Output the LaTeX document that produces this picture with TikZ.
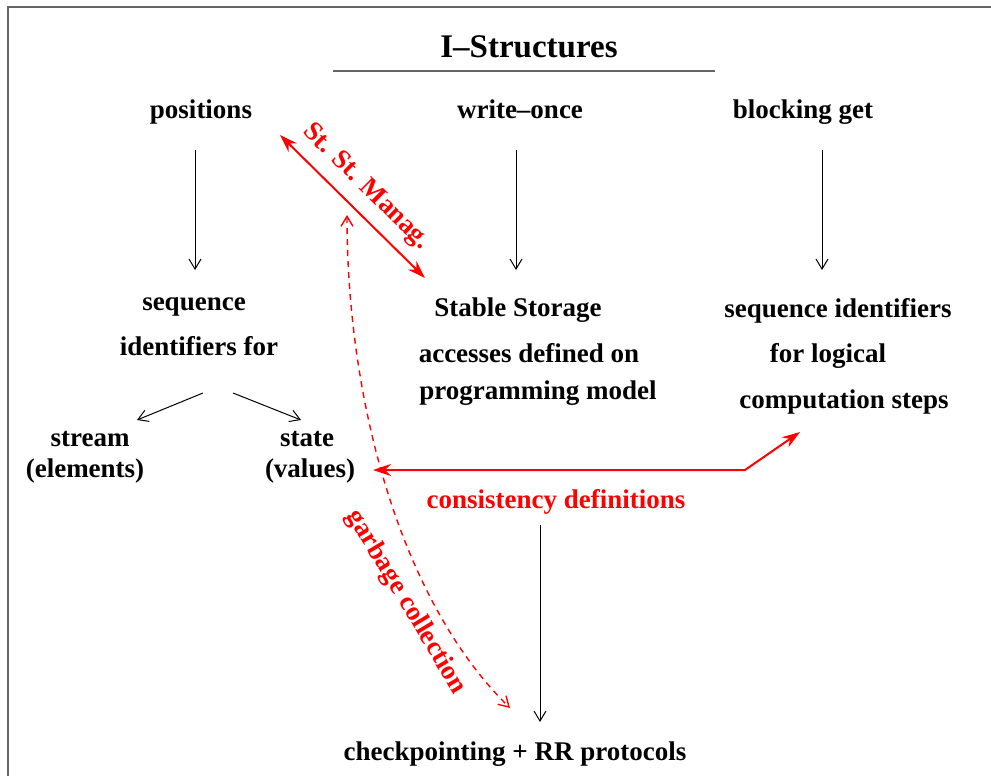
\documentclass[tikz,border=0pt]{standalone}
\usepackage{fontspec}
\setmainfont{Liberation Serif}
\usetikzlibrary{arrows.meta}
\definecolor{framegray}{gray}{0.4}
\begin{document}
\begin{tikzpicture}[x=0.5pt,y=-0.5pt,
  lbl/.style={font=\fontsize{13.5}{15}\selectfont\bfseries, inner sep=0pt, anchor=base},
  rlbl/.style={lbl, text=red},
  thinarrow/.style={line width=0.5pt, -{Straight Barb[length=5pt,width=6pt]}},
  redarrow/.style={red, line width=1pt, {Stealth[length=9pt,width=6pt]}-{Stealth[length=9pt,width=6pt]}},
  gcarrow/.style={red, line width=0.7pt, dash pattern=on 3pt off 2.5pt,
    {Straight Barb[length=5pt,width=6pt]}-{Straight Barb[length=5pt,width=6pt]}},
]
\useasboundingbox (0,0) rectangle (991,776);
% frame
\draw[framegray, line width=1pt] (8,800) -- (8,7) -- (1000,7);

% title
\node[lbl, font=\fontsize{16.5}{18}\selectfont\bfseries] (title) at (529,57) {I--Structures};
\draw[framegray, line width=0.6pt] (333,71) coordinate (ruleL) -- (715,71) coordinate (ruleR);

% top row
\node[lbl] (positions) at (201,118) {positions};
\node[lbl] (writeonce) at (520,118) {write--once};
\node[lbl] (blocking) at (803,118) {blocking get};

% middle texts
\node[lbl] (seq1) at (194,310) {sequence};
\node[lbl] (seq2) at (199,355) {identifiers for};
\node[lbl] (stab1) at (518,316) {Stable Storage};
\node[lbl] (stab2) at (529,362) {accesses defined on};
\node[lbl] (stab3) at (538,399) {programming model};
\node[lbl] (sid1) at (838,317) {sequence identifiers};
\node[lbl] (sid2) at (828,362) {for logical};
\node[lbl] (sid3) at (844,408) {computation steps};

\node[lbl] (stream1) at (90,446) {stream};
\node[lbl] (stream2) at (85,477) {(elements)};
\node[lbl] (state1) at (307,446) {state};
\node[lbl] (state2) at (310,477) {(values)};

\node[rlbl] (consist) at (556,508) {consistency definitions};
\node[lbl] (ckpt) at (515,760) {checkpointing + RR protocols};

% arrow end points
\coordinate (posA) at (195,150);  \coordinate (posB) at (195,270);
\coordinate (woA) at (516,150);   \coordinate (woB) at (516,270);
\coordinate (bgA) at (822,150);   \coordinate (bgB) at (822,270);
\coordinate (splitL) at (203,393); \coordinate (streamTip) at (137,420);
\coordinate (splitR) at (233,393); \coordinate (stateTip) at (301,420);
\coordinate (cdA) at (540,525);   \coordinate (cdB) at (540,722);

\draw[thinarrow] (posA) -- (posB);
\draw[thinarrow] (woA) -- (woB);
\draw[thinarrow] (bgA) -- (bgB);
\draw[thinarrow] (splitL) -- (streamTip);
\draw[thinarrow] (splitR) -- (stateTip);
\draw[thinarrow] (cdA) -- (cdB);

% stable storage management
\coordinate (ssA) at (280,135);
\coordinate (ssB) at (425,278);
\draw[redarrow] (ssA) -- (ssB);
\node[rlbl, anchor=center, rotate=-44.6] (sslabel) at (366,187) {St. St. Manag.};

% consistency connector
\coordinate (csL) at (373,470);
\coordinate (csBend) at (745,470);
\coordinate (csR) at (800,432);
\draw[redarrow] (csL) -- (csBend) -- (csR);

% garbage collection
\coordinate (gcTop) at (347,215);
\coordinate (gcBot) at (510,708);
\draw[gcarrow] (gcTop) .. controls (347,400) and (400,600) .. (gcBot);
\node[rlbl, anchor=center, rotate=-59] (gclabel) at (406,602) {garbage collection};
\end{tikzpicture}
\end{document}
